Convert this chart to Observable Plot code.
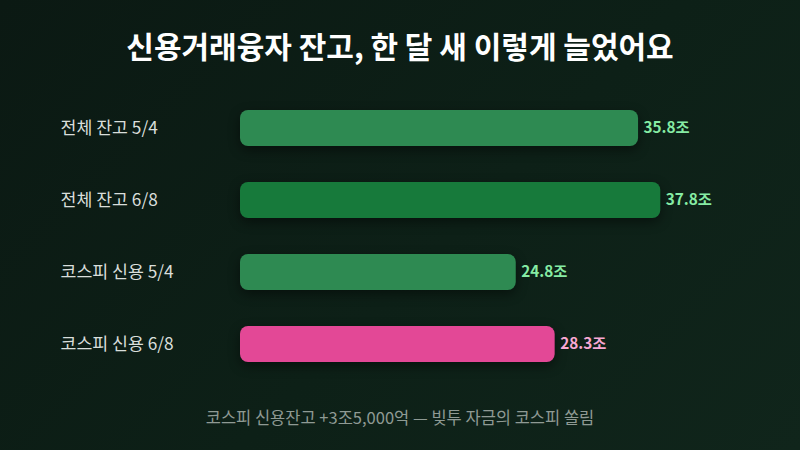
<!DOCTYPE html>
<html>
<head>
<meta charset="utf-8">
<script src="https://cdn.jsdelivr.net/npm/d3@7"></script>
<script src="https://cdn.jsdelivr.net/npm/@observablehq/plot@0.6"></script>
<style>
  html, body { margin: 0; padding: 0; }
  body {
    width: 800px; height: 450px; overflow: hidden; position: relative;
    background: linear-gradient(135deg, #0b1913 0%, #0d2017 55%, #10251b 100%);
    font-family: "Noto Sans CJK KR", "Noto Sans", sans-serif;
  }
  #title {
    position: absolute; left: 0; top: 24px; width: 800px; text-align: center;
    color: #ffffff; font-size: 30px; font-weight: 700; line-height: 42px;
  }
  #chart { position: absolute; left: 0; top: 74px; }
  #caption {
    position: absolute; left: 0; top: 404px; width: 800px; text-align: center;
    color: #8f9a94; font-size: 16.5px; line-height: 26px;
  }
  g[aria-label="bar"] rect { filter: drop-shadow(0px 4px 6px rgba(0,0,0,0.45)); }
</style>
</head>
<body>
<div id="title">신용거래융자 잔고, 한 달 새 이렇게 늘었어요</div>
<div id="chart"></div>
<div id="caption">코스피 신용잔고 +3조5,000억 — 빚투 자금의 코스피 쏠림</div>
<script>
const labels = ["전체 잔고 5/4", "전체 잔고 6/8", "코스피 신용 5/4", "코스피 신용 6/8"];
const values = [35.8, 37.8, 24.8, 28.3];
const valueTexts = ["35.8조", "37.8조", "24.8조", "28.3조"];
const barColors = ["#2e8a52", "#177a3b", "#2e8a52", "#e34896"];
const valueColors = ["#86eca4", "#86eca4", "#86eca4", "#f9a8d4"];

const data = labels.map((label, i) => ({
  label, value: values[i], text: valueTexts[i], bar: barColors[i], vcol: valueColors[i]
}));

const chart = Plot.plot({
  width: 800,
  height: 324,
  marginLeft: 240,
  marginRight: 93,
  marginTop: 0,
  marginBottom: 0,
  style: { background: "transparent", fontFamily: "'Noto Sans CJK KR', 'Noto Sans', sans-serif" },
  x: { domain: [0, 42], axis: null },
  y: { domain: labels, axis: null, padding: 0.5 },
  color: { type: "identity" },
  marks: [
    Plot.barX(data, { x: "value", y: "label", fill: "bar", rx: 8 }),
    Plot.text(data, {
      y: "label", text: "label", frameAnchor: "left", dx: -180, textAnchor: "start",
      fill: "#d9dedb", fontSize: 17.3
    }),
    Plot.text(data, {
      x: "value", y: "label", text: "text", dx: 5, textAnchor: "start",
      fill: "vcol", fontSize: 15.3, fontWeight: "bold"
    })
  ]
});
document.getElementById("chart").appendChild(chart);
</script>
</body>
</html>
